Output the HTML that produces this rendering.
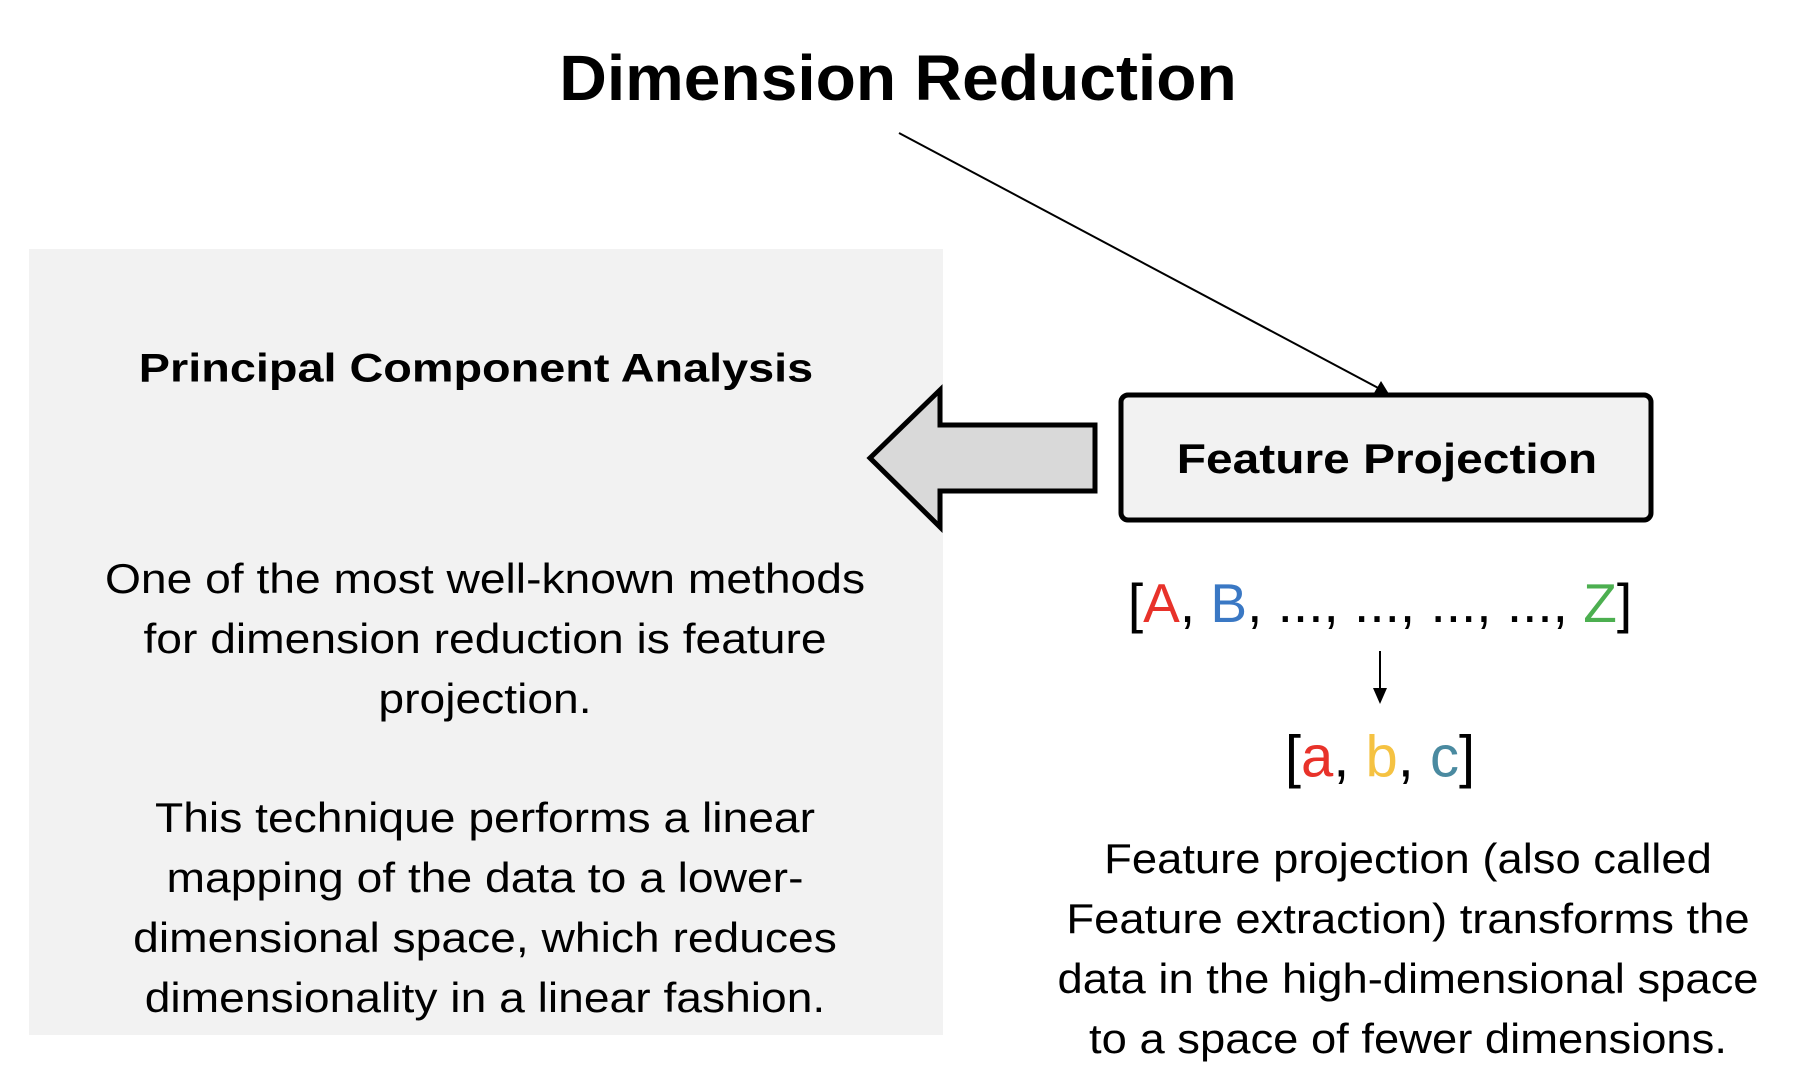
<!DOCTYPE html>
<html><head><meta charset="utf-8"><style>
html,body{margin:0;padding:0;background:#fff}
body{width:1798px;height:1088px;position:relative;overflow:hidden;font-family:"Liberation Sans",sans-serif;color:#000}
.t{position:absolute;white-space:nowrap;text-align:center;transform:translate(-50%,-50%)}
</style></head><body>
<svg width="1798" height="1088" style="position:absolute;left:0;top:0">
<rect x="29" y="249" width="914" height="786" fill="#f2f2f2"/>
<polygon points="870,458 940,390 940,425 1095,425 1095,491 940,491 940,527" fill="#d9d9d9" stroke="#000" stroke-width="5" stroke-linejoin="miter"/>
<rect x="1121" y="395" width="530" height="125" rx="7" fill="#f2f2f2" stroke="#000" stroke-width="5"/>
<line x1="899" y1="133" x2="1382" y2="390" stroke="#000" stroke-width="2"/>
<polygon points="1389,394 1374,393 1381,381" fill="#000"/>
<line x1="1380" y1="651" x2="1380" y2="690" stroke="#000" stroke-width="2"/>
<polygon points="1373,688 1387,688 1380,704" fill="#000"/>
</svg>
<div class="t" style="left:898px;top:78px;font-size:64px;font-weight:bold;transform:translate(-50%,-50%) scaleX(1.03)">Dimension Reduction</div>
<div class="t" style="left:476px;top:369px;font-size:40px;font-weight:bold;transform:translate(-50%,-50%) scaleX(1.17)">Principal Component Analysis</div>
<div class="t" style="left:1387px;top:459px;font-size:42px;font-weight:bold;transform:translate(-50%,-50%) scaleX(1.14)">Feature Projection</div>
<div class="t" style="left:485px;top:639px;font-size:42px;line-height:60px;transform:translate(-50%,-50%) scaleX(1.1)">One of the most well-known methods<br>for dimension reduction is feature<br>projection.</div>
<div class="t" style="left:485px;top:908px;font-size:42px;line-height:60px;transform:translate(-50%,-50%) scaleX(1.1)">This technique performs a linear<br>mapping of the data to a lower-<br>dimensional space, which reduces<br>dimensionality in a linear fashion.</div>
<div class="t" style="left:1380px;top:603px;font-size:55px">[<span style="color:#e8322a">A</span>, <span style="color:#3a78c4">B</span>, ..., ..., ..., ..., <span style="color:#4caf50">Z</span>]</div>
<div class="t" style="left:1380px;top:757px;font-size:58px">[<span style="color:#e8322a">a</span>, <span style="color:#f5c242">b</span>, <span style="color:#4a8aa0">c</span>]</div>
<div class="t" style="left:1408px;top:949px;font-size:42px;line-height:60px;transform:translate(-50%,-50%) scaleX(1.08)">Feature projection (also called<br>Feature extraction) transforms the<br>data in the high-dimensional space<br>to a space of fewer dimensions.</div>
</body></html>
